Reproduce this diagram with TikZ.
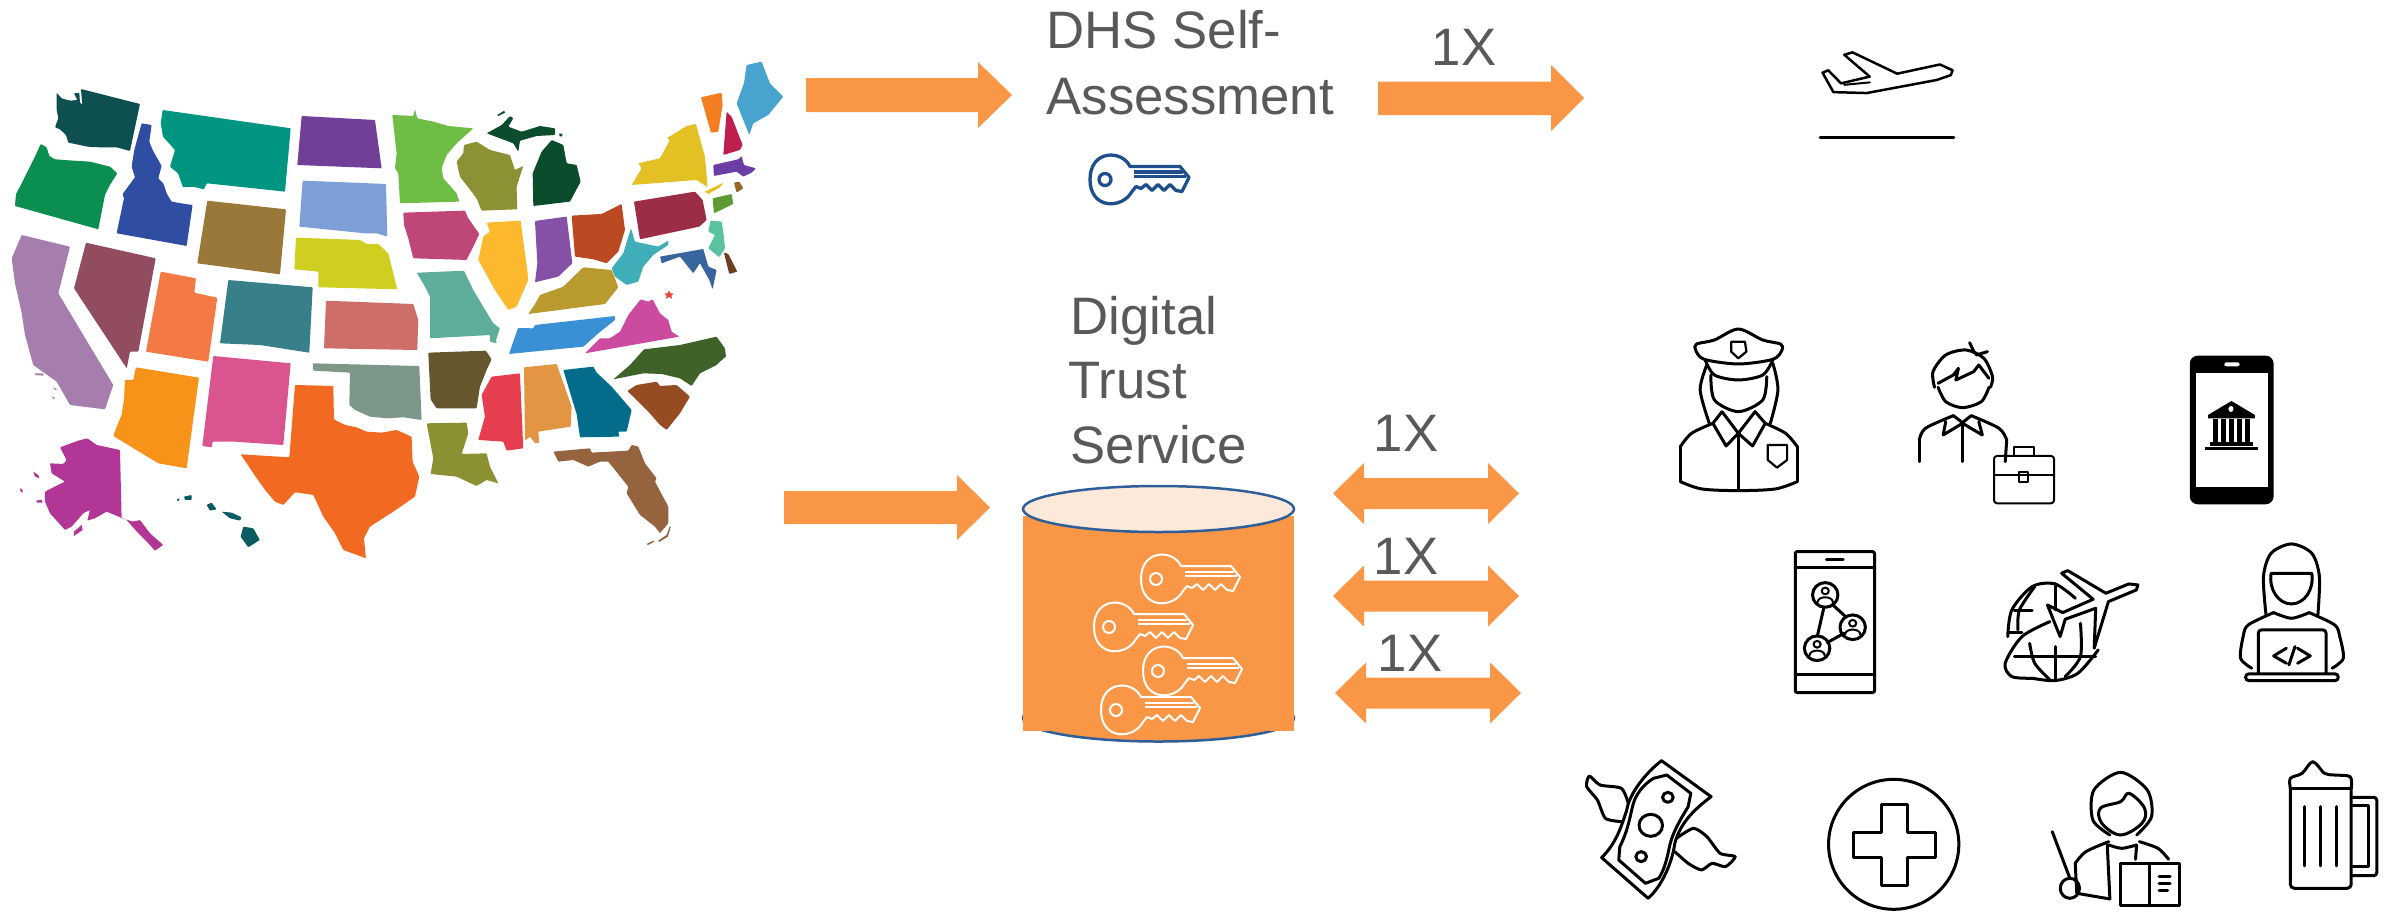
\documentclass[tikz,border=0pt]{standalone}
\usepackage{fontspec}
\setmainfont{Liberation Sans}
\definecolor{arrowor}{HTML}{F99747}
\definecolor{txtgray}{HTML}{595959}
\definecolor{keyblue}{HTML}{1F4E8C}
\definecolor{cylline}{HTML}{2F5F9A}
\definecolor{cyltop}{HTML}{FDE9DA}
\definecolor{cWA}{HTML}{0E4F4F}\definecolor{cOR}{HTML}{0B8F50}\definecolor{cID}{HTML}{2F4EA2}\definecolor{cMT}{HTML}{009580}
\definecolor{cND}{HTML}{713E98}\definecolor{cMN}{HTML}{6EBD44}\definecolor{cWI}{HTML}{8C9234}\definecolor{cMI}{HTML}{0B4C2D}
\definecolor{cNY}{HTML}{E3C125}\definecolor{cVT}{HTML}{F47D20}\definecolor{cNH}{HTML}{BC1F50}\definecolor{cME}{HTML}{48A3CF}
\definecolor{cMA}{HTML}{6C3EA5}\definecolor{cRI}{HTML}{96652B}\definecolor{cCT}{HTML}{5E9B35}\definecolor{cPA}{HTML}{9B2D46}
\definecolor{cNJ}{HTML}{5BC2A0}\definecolor{cDE}{HTML}{6B3F22}\definecolor{cMD}{HTML}{38659E}\definecolor{cWV}{HTML}{3FAEB9}
\definecolor{cOH}{HTML}{BB4921}\definecolor{cIN}{HTML}{8550A5}\definecolor{cIL}{HTML}{FDB92E}\definecolor{cIA}{HTML}{BE4778}
\definecolor{cSD}{HTML}{7B9FD6}\definecolor{cNE}{HTML}{CFCF22}\definecolor{cWY}{HTML}{99783A}\definecolor{cCO}{HTML}{378089}
\definecolor{cKS}{HTML}{CD6E68}\definecolor{cMO}{HTML}{5EAE9C}\definecolor{cKY}{HTML}{B89A2F}\definecolor{cTN}{HTML}{3A90D5}
\definecolor{cVA}{HTML}{CC4BA0}\definecolor{cNC}{HTML}{3E6228}\definecolor{cSC}{HTML}{964C22}\definecolor{cGA}{HTML}{026C8A}
\definecolor{cFL}{HTML}{95643F}\definecolor{cAL}{HTML}{E29542}\definecolor{cMS}{HTML}{E63D4F}\definecolor{cAR}{HTML}{66562E}
\definecolor{cLA}{HTML}{8B9133}\definecolor{cTX}{HTML}{F26A21}\definecolor{cOK}{HTML}{7D9888}\definecolor{cNM}{HTML}{DA5490}
\definecolor{cAZ}{HTML}{F79318}\definecolor{cUT}{HTML}{F47A45}\definecolor{cNV}{HTML}{924C60}\definecolor{cCA}{HTML}{A67EAE}
\definecolor{cAK}{HTML}{B13695}\definecolor{cHI}{HTML}{0A5C60}\definecolor{cStar}{HTML}{E64632}
\newcommand{\keyicon}[4]{%
\begin{scope}[shift={(#1,#2)}]
\draw[draw=#3,line width=#4,line join=round]
 (40,-13) .. controls (32,-30) and (0,-30) .. (0,0) .. controls (0,30) and (32,30) .. (42,12)
 -- (46,7) -- (51,9) -- (56,5) -- (62,11) -- (68,5) -- (74,11) -- (80,5) -- (86,11) -- (92,12) -- (99,-2) -- (90,-13) -- cycle;
\draw[draw=#3,line width=#4] (44,-7.5) -- (93,-7.5) (44,-3) -- (96,-3);
\draw[draw=#3,line width=#4] (15,0) circle (6);
\end{scope}}
\tikzset{
 state/.style={rounded corners=0.08mm},
 icon/.style={draw=black,line width=0.3mm,line join=round,line cap=round},
 thinicon/.style={draw=black,line width=0.2mm,line join=round,line cap=round},
 label/.style={font=\fontsize{15}{18}\selectfont,text=txtgray,inner sep=0pt,anchor=base west},
 blockarrow/.style={fill=arrowor,draw=none},
 triple/.style={x=0.03333mm,y=-0.03333mm}
}
\begin{document}
\begin{tikzpicture}[x=0.1mm,y=-0.1mm]
\useasboundingbox (0,0) rectangle (2397,911);
\fill[white] (0,0) rectangle (2397,911);
% ---- map: states in true pixels
\fill[state,cMT] (162.7,110)--(290.7,128.3)--(285,191.7)--(270,190)--(206.7,183.3)--(204,189.3)--(193,186.7)--(183,187.3)--(178,173.3)--(170,166.7)--(175,150)--(163,136.7)--(160.7,123.3)--cycle;
\fill[state,cWY] (207.3,200.7)--(286,209.3)--(280,274.3)--(197.3,263.3)--cycle;
\fill[state,cCA] (21.7,235)--(70,246.7)--(58.3,293.3)--(68.3,310)--(113.3,385)--(105,409.3)--(70,405)--(56.7,381.7)--(33.3,365)--(25,335)--(21.7,313)--(15,283.3)--(11.7,258.3)--cycle;
\fill[state,cNV] (86,242.7)--(155.7,258.3)--(138.3,351.7)--(130,351.7)--(126.7,368.3)--(74,288.3)--cycle;
\fill[state,cUT] (160.7,271.7)--(196,278.3)--(194.3,292.7)--(217.3,297.7)--(208.3,361.7)--(146,351.7)--cycle;
\fill[state,cCO] (228.3,280)--(312.7,287.3)--(309.3,352.7)--(260,345)--(220,343.3)--cycle;
\fill[state,cNM] (213.3,356)--(290.7,363.3)--(283.3,445)--(235,441.7)--(212.7,441.7)--(211.7,447.3)--(202.3,446)--cycle;
\fill[state,cKS] (326,300.7)--(413.3,304)--(418.3,320)--(417.3,350)--(324,348.3)--cycle;
\fill[state,cMO] (416.7,272.7)--(464,270.7)--(473.3,290)--(483.3,306.7)--(493.3,323.3)--(500,328.3)--(496,340)--(496.7,343.3)--(490,341.7)--(490,335)--(430,338.3)--(430,296.7)--(425,286.7)--cycle;
\fill[state,cKY] (583.3,267.3)--(611.7,270)--(618.3,287.3)--(605,304)--(528.3,314)--(535,304)--(540,295)--(563.3,286.7)--(573.3,276.7)--cycle;
\fill[state,cMI] (486.7,133.3)--(501.7,125)--(510,116)--(513.3,118.3)--(508.3,126.7)--(521.7,131.7)--(540,126)--(555,128.3)--(555,135)--(536.7,136)--(520,140.7)--(518.3,151.7)--(513.3,143.3)--(500,138.3)--cycle;
% crop A
\begin{scope}[shift={(0,70)},triple]
\fill[state,cWA] (170,68)--(185,85)--(210,92)--(232,90)--(222,70)--(238,68)--(240,98)--(247,105)--(243,57)--(420,102)--(390,243)--(350,232)--(300,232)--(262,230)--(225,222)--(205,218)--(198,195)--(180,178)--(165,172)--(175,145)--(170,120)--cycle;
\fill[state,cOR] (122,222)--(140,232)--(148,258)--(165,268)--(220,272)--(270,275)--(330,290)--(352,310)--(330,345)--(315,375)--(295,478)--(45,408)--(48,372)--(60,350)--(80,310)--(105,260)--cycle;
\fill[state,cID] (425,160)--(455,165)--(448,215)--(458,240)--(485,288)--(475,325)--(490,340)--(500,370)--(515,395)--(555,402)--(578,405)--(560,528)--(350,490)--(372,385)--(368,372)--(405,322)--(395,290)--(403,240)--cycle;
\end{scope}
% crop D
\begin{scope}[shift={(0,310)},triple]
\fill[state,cAZ] (408,172)--(597,203)--(560,475)--(475,460)--(340,378)--(352,345)--(365,315)--(372,270)--(375,210)--(400,210)--cycle;
\fill[state,cAK] (180,412)--(235,392)--(262,385)--(290,405)--(360,420)--(365,625)--(400,635)--(420,630)--(450,670)--(490,705)--(465,722)--(445,700)--(415,670)--(380,630)--(320,605)--(285,625)--(262,632)--(270,600)--(250,610)--(215,650)--(195,660)--(150,610)--(135,575)--(135,545)--(195,515)--(155,490)--(150,460)--(190,462)--(200,450)--cycle;
\fill[cAK] (222,665)--(245,645)--(248,660)--(222,678)--cycle (100,485)--(115,495)--(118,505)--(105,500)--cycle (108,572)--(125,570)--(128,578)--(112,578)--cycle (60,535)--(68,540)--(68,548)--(62,545)--cycle;
\fill[state,cHI] (730,650)--(760,655)--(780,690)--(745,712)--(722,680)--cycle (620,585)--(635,578)--(650,598)--(630,602)--cycle (665,605)--(695,608)--(725,622)--(720,632)--(690,625)--cycle (552,560)--(575,555)--(575,570)--(555,570)--cycle (530,568)--(540,565)--(535,575)--cycle;
\fill[cCA] (105,190)--(130,190)--(130,197)--(105,195)--cycle (160,232)--(172,238)--(165,240)--cycle (156,258)--(165,265)--(160,268)--cycle;
\end{scope}
% crop E
\begin{scope}[shift={(260,330)},triple]
\fill[state,cTX] (105,165)--(220,168)--(222,268)--(255,285)--(290,292)--(320,305)--(365,308)--(410,300)--(455,320)--(458,395)--(478,440)--(465,500)--(400,545)--(330,590)--(312,625)--(318,685)--(250,660)--(225,610)--(190,560)--(160,495)--(105,487)--(70,525)--(45,515)--(15,480)--(-20,430)--(-58,373)--(88,382)--cycle;
\fill[state,cOK] (158,100)--(478,108)--(485,270)--(430,262)--(380,265)--(330,260)--(285,240)--(268,225)--(270,128)--(160,122)--cycle;
\fill[state,cAR] (505,68)--(678,62)--(695,88)--(680,120)--(660,170)--(650,235)--(530,235)--(512,208)--cycle;
\fill[state,cLA] (500,280)--(620,278)--(625,310)--(605,372)--(680,370)--(690,410)--(715,460)--(680,450)--(650,468)--(590,440)--(512,432)--(520,385)--cycle;
\fill[state,cMS] (695,140)--(780,130)--(790,355)--(740,362)--(730,335)--(655,330)--(675,260)--(665,195)--cycle;
\end{scope}
% crop F
\begin{scope}[shift={(520,290)},triple]
\fill[state,cTN] (-6,114)--(40,115)--(45,105)--(285,78)--(285,90)--(235,130)--(190,170)--(-33,192)--cycle;
\fill[state,cVA] (362,28)--(385,35)--(398,28)--(420,70)--(445,90)--(455,125)--(478,140)--(195,190)--(240,145)--(270,145)--(300,125)--(325,75)--cycle;
\fill[state,cNC] (590,140)--(615,175)--(618,200)--(600,215)--(590,225)--(540,250)--(515,288)--(480,265)--(425,252)--(370,250)--(280,268)--(330,225)--(372,178)--(480,165)--cycle;
\fill[state,cSC] (322,303)--(350,285)--(410,275)--(420,288)--(470,285)--(510,320)--(480,370)--(440,420)--(420,405)--(385,365)--(350,330)--cycle;
\fill[state,cGA] (130,240)--(220,230)--(230,248)--(275,290)--(335,360)--(320,425)--(295,425)--(298,440)--(180,442)--(170,372)--(160,340)--cycle;
\fill[state,cAL] (12,232)--(110,222)--(155,350)--(152,410)--(55,425)--(58,458)--(45,460)--(30,440)--(15,452)--cycle;
\fill[state,cFL] (100,485)--(210,475)--(215,488)--(325,482)--(335,465)--(355,470)--(375,520)--(410,565)--(405,575)--(445,650)--(445,700)--(420,730)--(405,710)--(360,675)--(320,610)--(325,590)--(265,515)--(240,515)--(205,530)--(160,510)--(115,515)--cycle;
\fill[cFL] (380,762)--(400,752)--(402,756)--(384,765)--cycle (415,752)--(440,735)--(450,708)--(452,712)--(444,740)--(418,756)--cycle;
\fill[cStar] (447,2)--(452,10)--(461,11)--(454,17)--(456,26)--(447,21)--(438,26)--(440,17)--(433,11)--(442,10)--cycle;
\end{scope}
% crop B
\begin{scope}[shift={(260,90)},triple]
\fill[state,cND] (125,78)--(345,90)--(365,235)--(112,225)--cycle;
\fill[state,cMN] (397,75)--(460,78)--(465,58)--(472,85)--(520,95)--(565,108)--(640,115)--(590,160)--(560,195)--(545,235)--(550,265)--(590,310)--(598,335)--(420,340)--(415,250)--(405,235)--(410,190)--cycle;
\fill[state,cWI] (612,165)--(650,155)--(690,180)--(750,195)--(765,240)--(790,228)--(770,290)--(772,358)--(665,362)--(650,325)--(600,260)--(590,215)--(610,190)--cycle;
\fill[cMI] (712,75)--(733,62)--(735,68)--(715,78)--cycle;
\fill[state,cSD] (128,272)--(378,282)--(382,440)--(350,430)--(315,430)--(118,410)--cycle;
\fill[state,cNE] (108,443)--(300,450)--(320,462)--(355,462)--(385,490)--(412,598)--(175,592)--(175,545)--(103,538)--cycle;
\fill[state,cIA] (430,368)--(615,362)--(625,385)--(658,432)--(640,470)--(620,510)--(460,505)--(445,445)--(432,405)--cycle;
\fill[state,cIL] (680,398)--(782,392)--(802,540)--(805,570)--(770,650)--(745,660)--(705,600)--(655,510)--(670,440)--(690,425)--cycle;
\end{scope}
% crop C
\begin{scope}[shift={(520,50)},triple]
\fill[state,cMI] (95,270)--(130,285)--(140,340)--(170,345)--(182,395)--(150,455)--(40,468)--(38,370)--(65,305)--cycle;
\fill[cMI] (118,250)--(128,252)--(125,260)--(118,258)--cycle;
\fill[state,cIN] (45,513)--(140,500)--(157,640)--(115,680)--(45,697)--(52,640)--cycle;
\fill[state,cOH] (155,497)--(245,492)--(305,462)--(315,540)--(295,605)--(260,640)--(220,628)--(165,620)--cycle;
\fill[state,cPA] (342,455)--(525,425)--(548,450)--(560,510)--(538,530)--(360,568)--cycle;
\fill[state,cWV] (333,535)--(345,575)--(415,590)--(445,572)--(445,585)--(400,615)--(370,650)--(355,695)--(320,705)--(285,680)--(275,655)--(310,610)--cycle;
\fill[state,cMD] (420,620)--(550,597)--(565,650)--(590,660)--(578,718)--(568,690)--(540,640)--(520,670)--(480,620)--(425,640)--cycle;
\fill[state,cDE] (612,608)--(625,612)--(652,665)--(628,672)--cycle;
\fill[state,cNJ] (572,512)--(605,515)--(610,545)--(615,595)--(598,622)--(565,595)--(585,555)--(565,545)--cycle;
\fill[state,cCT] (578,445)--(635,432)--(640,462)--(582,490)--cycle;
\fill[state,cRI] (642,398)--(658,395)--(670,415)--(650,428)--cycle;
\fill[state,cMA] (580,345)--(655,328)--(665,318)--(672,345)--(708,355)--(695,368)--(670,380)--(650,365)--(582,378)--cycle;
\fill[state,cNH] (620,185)--(635,200)--(668,285)--(660,300)--(610,315)--cycle;
\fill[state,cVT] (543,142)--(605,128)--(608,165)--(595,245)--(573,248)--cycle;
\fill[state,cME] (680,45)--(725,35)--(750,100)--(790,140)--(745,195)--(700,220)--(688,255)--(650,160)--(672,100)--cycle;
\fill[state,cNY] (500,228)--(528,222)--(555,320)--(563,412)--(530,390)--(335,405)--(365,355)--(355,340)--(420,325)--(450,270)--(440,265)--cycle;
\fill[cNY] (555,425)--(610,398)--(600,412)--(565,432)--cycle;
\end{scope}
% ---- block arrows
\fill[blockarrow] (806,78)--(978,78)--(978,62)--(1012,95)--(978,128)--(978,112)--(806,112)--cycle;
\fill[blockarrow] (1378,81.5)--(1551,81.5)--(1551,65)--(1584,98)--(1551,131)--(1551,115)--(1378,115)--cycle;
\fill[blockarrow] (784,491)--(957,491)--(957,475)--(990,507.5)--(957,540)--(957,524)--(784,524)--cycle;
\fill[blockarrow] (1333,493.5)--(1364,463)--(1364,478)--(1488,478)--(1488,463)--(1519,493.5)--(1488,524)--(1488,509)--(1364,509)--(1364,524)--cycle;
\fill[blockarrow] (1333,596)--(1364,565.5)--(1364,580.5)--(1488,580.5)--(1488,565.5)--(1519,596)--(1488,626.5)--(1488,611.5)--(1364,611.5)--(1364,626.5)--cycle;
\fill[blockarrow] (1335,693)--(1366,662.5)--(1366,677.5)--(1490,677.5)--(1490,662.5)--(1521,693)--(1490,723.5)--(1490,708.5)--(1366,708.5)--(1366,723.5)--cycle;
% ---- cylinder
\draw[draw=cylline,line width=0.25mm,fill=arrowor] (1158.5,718) ellipse (135.5 and 23.5);
\fill[arrowor] (1023,516) rectangle (1294,730.5);
\draw[draw=cylline,line width=0.25mm,fill=cyltop] (1158.5,509) ellipse (135.5 and 23);
% ---- keys
\keyicon{1090}{179.5}{keyblue}{0.33mm}
\keyicon{1141}{579}{white}{0.2mm}
\keyicon{1094}{627}{white}{0.2mm}
\keyicon{1143}{671}{white}{0.2mm}
\keyicon{1101}{710}{white}{0.2mm}
% ---- texts
\node[label] (t1) at (1046,48.5) {DHS Self-};
\node[label] (t2) at (1046,114) {Assessment};
\node[label] (t3) at (1431,65.4) {1X};
\node[label] (t4) at (1070,334.5) {Digital};
\node[label] (t5) at (1068,398.5) {Trust};
\node[label] (t6) at (1070,463) {Service};
\node[label] (t7) at (1373,451) {1X};
\node[label] (t8) at (1373,574) {1X};
\node[label] (t9) at (1377,671) {1X};
% ---- departure icon
\begin{scope}[shift={(980,0)},x=0.06378mm,y=-0.04847mm]
\draw[icon,line width=0.25mm] (1438,152)--(1368,108)--(1355,113)--(1395,158)--(1350,172)--(1330,145)--(1321,150)--(1338,190)--(1390,192)--(1500,165)--(1522,155)--(1525,145)--(1505,133)--cycle;
\draw[icon,line width=0.2mm] (1355,175)--(1395,170);
\draw[icon] (1317,284)--(1527,284);
\end{scope}
% ---- zoom-3 icons
\begin{scope}[shift={(1600,300)},x=0.05084mm,y=-0.03333mm]
% police
\draw[icon] plot[smooth cycle,tension=0.5] coordinates {(272,87) (320,120) (355,132) (358,150) (340,178) (272,192) (205,178) (188,150) (190,132) (225,120)};
\draw[icon] plot[smooth] coordinates {(207,180) (225,225) (272,240) (320,225) (340,180)};
\draw[icon] plot[smooth] coordinates {(218,225) (225,300) (272,335) (320,300) (328,230)};
\draw[icon] plot[smooth] coordinates {(210,195) (197,270) (215,370)};
\draw[icon] plot[smooth] coordinates {(340,190) (350,270) (335,370)};
\draw[icon] (240,335)--(222,370)--(248,438)--(272,400)--(300,438)--(325,370)--(305,335)--(272,400)--(240,335);
\draw[icon] plot[smooth] coordinates {(222,370) (180,400) (158,440)};
\draw[icon] (158,440)--(158,545);
\draw[icon] plot[smooth] coordinates {(158,545) (200,567) (272,572) (345,567) (388,545)};
\draw[icon] (388,545)--(388,440);
\draw[icon] plot[smooth] coordinates {(388,440) (365,400) (325,370)};
\draw[icon] (272,400)--(272,568);
\draw[icon,line width=0.22mm] (258,125)--(285,125)--(288,155)--(272,175)--(258,155)--cycle;
\draw[icon,line width=0.22mm] (330,435)--(368,435)--(368,480)--(348,503)--(330,480)--cycle;
% man
\draw[icon] plot[smooth] coordinates {(665,262) (680,305) (713,323) (750,305) (765,262)};
\draw[icon] plot[smooth] coordinates {(658,262) (655,215) (680,165) (720,150) (755,175) (772,230) (768,262)};
\draw[icon] (665,250)--(695,225)--(705,205)--(700,240)--(735,215)--(745,195)--(765,235);
\draw[icon] (727,128)--(737,160) (762,155)--(740,165);
\draw[icon] (628,485)--(628,420);
\draw[icon] plot[smooth] coordinates {(628,420) (640,385) (695,347)};
\draw[icon] plot[smooth] coordinates {(730,347) (785,385) (800,420)};
\draw[icon] (800,420)--(797,485);
\draw[icon] (680,365)--(675,405)--(713,370)--(752,405)--(745,365);
\draw[icon] (713,370)--(713,485);
\draw[icon] (695,347)--(713,368)--(730,347);
\draw[thinicon,rounded corners=0.3mm] (775,468) rectangle (893,610);
\draw[thinicon] (775,525)--(893,525);
\draw[thinicon] (815,468)--(815,440)--(853,440)--(853,468);
\draw[thinicon] (825,515) rectangle (842,545);
% bank phone
\fill[black,rounded corners=0.8mm] (1160,167) rectangle (1325,613);
\fill[white] (1172,220) rectangle (1313,560);
\fill[white,rounded corners=0.2mm] (1228,187) rectangle (1258,199);
\fill[black] (1242,303)--(1288,345)--(1288,355)--(1196,355)--(1196,345)--cycle;
\fill[white] (1241,327) ellipse (5 and 9);
\foreach \cx in {1210,1226,1242,1258,1274}{\fill[black] (\cx-5,358) rectangle (\cx+5,425);}
\fill[black] (1200,425) rectangle (1285,437);
\fill[black] (1190,440) rectangle (1295,451);
% network phone
\draw[icon,rounded corners=0.2mm] (384,755) rectangle (540,1178);
\draw[icon] (384,803)--(540,803) (384,1125)--(540,1125);
\draw[icon] (445,779)--(478,779);
\draw[icon] (443,885) ellipse (25 and 37);
\draw[icon] (497,982) ellipse (25 and 37);
\draw[icon] (427,1045) ellipse (25 and 37);
\draw[icon] (440,925)--(428,1005) (458,915)--(483,950) (447,1028)--(480,1000);
\foreach \px/\py in {443/885,497/982,427/1045}{
 \draw[thinicon] (\px,\py-12) ellipse (7 and 10);
 \draw[thinicon] (\px-15,\py+22) .. controls (\px-15,\py+2) and (\px+15,\py+2) .. (\px+15,\py+22);}
% globe plane
\draw[icon] plot[smooth] coordinates {(935,895) (895,852) (850,860) (810,930) (802,1010)};
\draw[icon] plot[smooth] coordinates {(885,965) (830,1010) (797,1090) (810,1130) (850,1135)};
\draw[icon] plot[smooth] coordinates {(850,1135) (895,1142) (940,1120) (980,1050)};
\draw[icon] (895,852)--(895,930) (895,1040)--(895,1140);
\draw[icon] plot[smooth] coordinates {(855,860) (825,930) (822,990)};
\draw[icon] plot[smooth] coordinates {(845,1030) (855,1090) (885,1140)};
\draw[icon] plot[smooth] coordinates {(945,970) (945,1070) (915,1130)};
\draw[icon] (815,932)--(850,932) (805,997)--(830,997) (815,1070)--(975,1070);
\draw[icon] (1058,855)--(1040,852)--(995,880)--(920,812)--(908,820)--(970,898)--(910,938)--(880,915)--(905,1010)--(915,958)--(975,925)--(972,1045)--(1000,905)--(1055,870)--cycle;
% coder
\draw[icon] plot[smooth] coordinates {(1310,945) (1305,830) (1320,760) (1360,732) (1400,760) (1415,830) (1412,945)};
\draw[icon] (1320,820)--(1400,820) .. controls (1405,870) and (1385,912) .. (1360,912) .. controls (1335,912) and (1315,870) .. (1320,820) -- cycle;
\draw[icon] plot[smooth] coordinates {(1325,938) (1360,955) (1395,938)};
\draw[icon] plot[smooth] coordinates {(1325,938) (1275,975) (1265,1010) (1260,1075) (1282,1105)};
\draw[icon] plot[smooth] coordinates {(1395,938) (1445,975) (1455,1010) (1462,1075) (1440,1105)};
\draw[icon,rounded corners=0.3mm] (1295,1120)--(1295,990)--(1428,990)--(1428,1120);
\draw[icon,rounded corners=0.3mm] (1270,1122) rectangle (1452,1142);
\draw[icon] (1350,1045)--(1325,1068)--(1350,1090) (1372,1045)--(1397,1068)--(1372,1090) (1367,1040)--(1355,1095);
\end{scope}
% ---- zoom-4 icons
\begin{scope}[shift={(1560,720)},x=0.05339mm,y=-0.03333mm]
% money
\draw[icon] (190,122)--(283,230) .. controls (250,270) and (225,310) .. (215,370) .. controls (210,430) and (190,500) .. (165,535) --(78,413) .. controls (105,370) and (115,320) .. (125,270) .. controls (130,220) and (160,160) .. (190,122) -- cycle;
\draw[icon] (175,175)--(200,165)--(245,220)--(240,260) .. controls (225,300) and (210,340) .. (205,380) .. controls (200,420) and (195,450) .. (185,475) --(160,490)--(110,420)--(112,380) .. controls (125,340) and (130,300) .. (135,265) .. controls (140,225) and (155,195) .. (175,175) -- cycle;
\draw[icon] (202,232) ellipse (10 and 15);
\draw[icon] (170,316) ellipse (22 and 33);
\draw[icon] (152,410) ellipse (10 and 15);
\draw[icon] plot[smooth,tension=0.4] coordinates {(115,305) (85,295) (70,240) (50,200) (55,168) (75,195) (115,205) (128,250)};
\draw[icon] plot[smooth,tension=0.4] coordinates {(218,355) (250,325) (275,350) (300,400) (328,410) (310,440) (285,430) (265,450) (240,430) (215,395)};
% medical
\draw[icon] (625,373) ellipse (122 and 195);
\draw[icon] (603,255)--(650,255)--(650,337)--(703,337)--(703,412)--(650,412)--(650,497)--(603,497)--(603,412)--(550,412)--(550,337)--(603,337)--cycle;
% teacher
\draw[icon] plot[smooth] coordinates {(1030,345) (998,300) (1000,210) (1050,157) (1100,210) (1108,290) (1080,345)};
\draw[icon] plot[smooth cycle,tension=0.6] coordinates {(1012,265) (1050,245) (1066,220) (1095,265) (1090,310) (1050,345) (1015,310)};
\draw[icon] plot[smooth] coordinates {(1028,375) (1052,385) (1080,375)};
\draw[icon] plot[smooth] coordinates {(1028,365) (985,395) (965,430)};
\draw[icon] (965,430)--(968,520)--(1030,537);
\draw[icon] plot[smooth] coordinates {(1085,365) (1120,385) (1140,418)};
\draw[icon] (1025,375)--(1030,537) (1080,375)--(1078,418);
\draw[icon] (1050,432) rectangle (1160,558);
\draw[icon] (1105,432)--(1105,558);
\draw[icon] (1122,470)--(1143,470) (1122,492)--(1143,492) (1122,513)--(1138,513);
\draw[icon] (922,335)--(955,475);
\draw[icon] (955,505) ellipse (18 and 30);
% beer
\draw[icon,rounded corners=0.4mm] (1368,205)--(1368,505)--(1482,505)--(1482,205);
\draw[icon] plot[smooth,tension=0.5] coordinates {(1368,205) (1368,175) (1390,160) (1410,125) (1432,160) (1450,165) (1480,170) (1482,205)};
\draw[icon] (1368,205)--(1482,205);
\draw[icon] (1395,260)--(1395,438) (1424,260)--(1424,438) (1454,260)--(1454,438);
\draw[icon,rounded corners=0.3mm] (1482,232)--(1530,232)--(1530,467)--(1482,467);
\draw[icon] (1482,257)--(1515,257)--(1515,440)--(1482,440);
\end{scope}
\end{tikzpicture}
\end{document}
